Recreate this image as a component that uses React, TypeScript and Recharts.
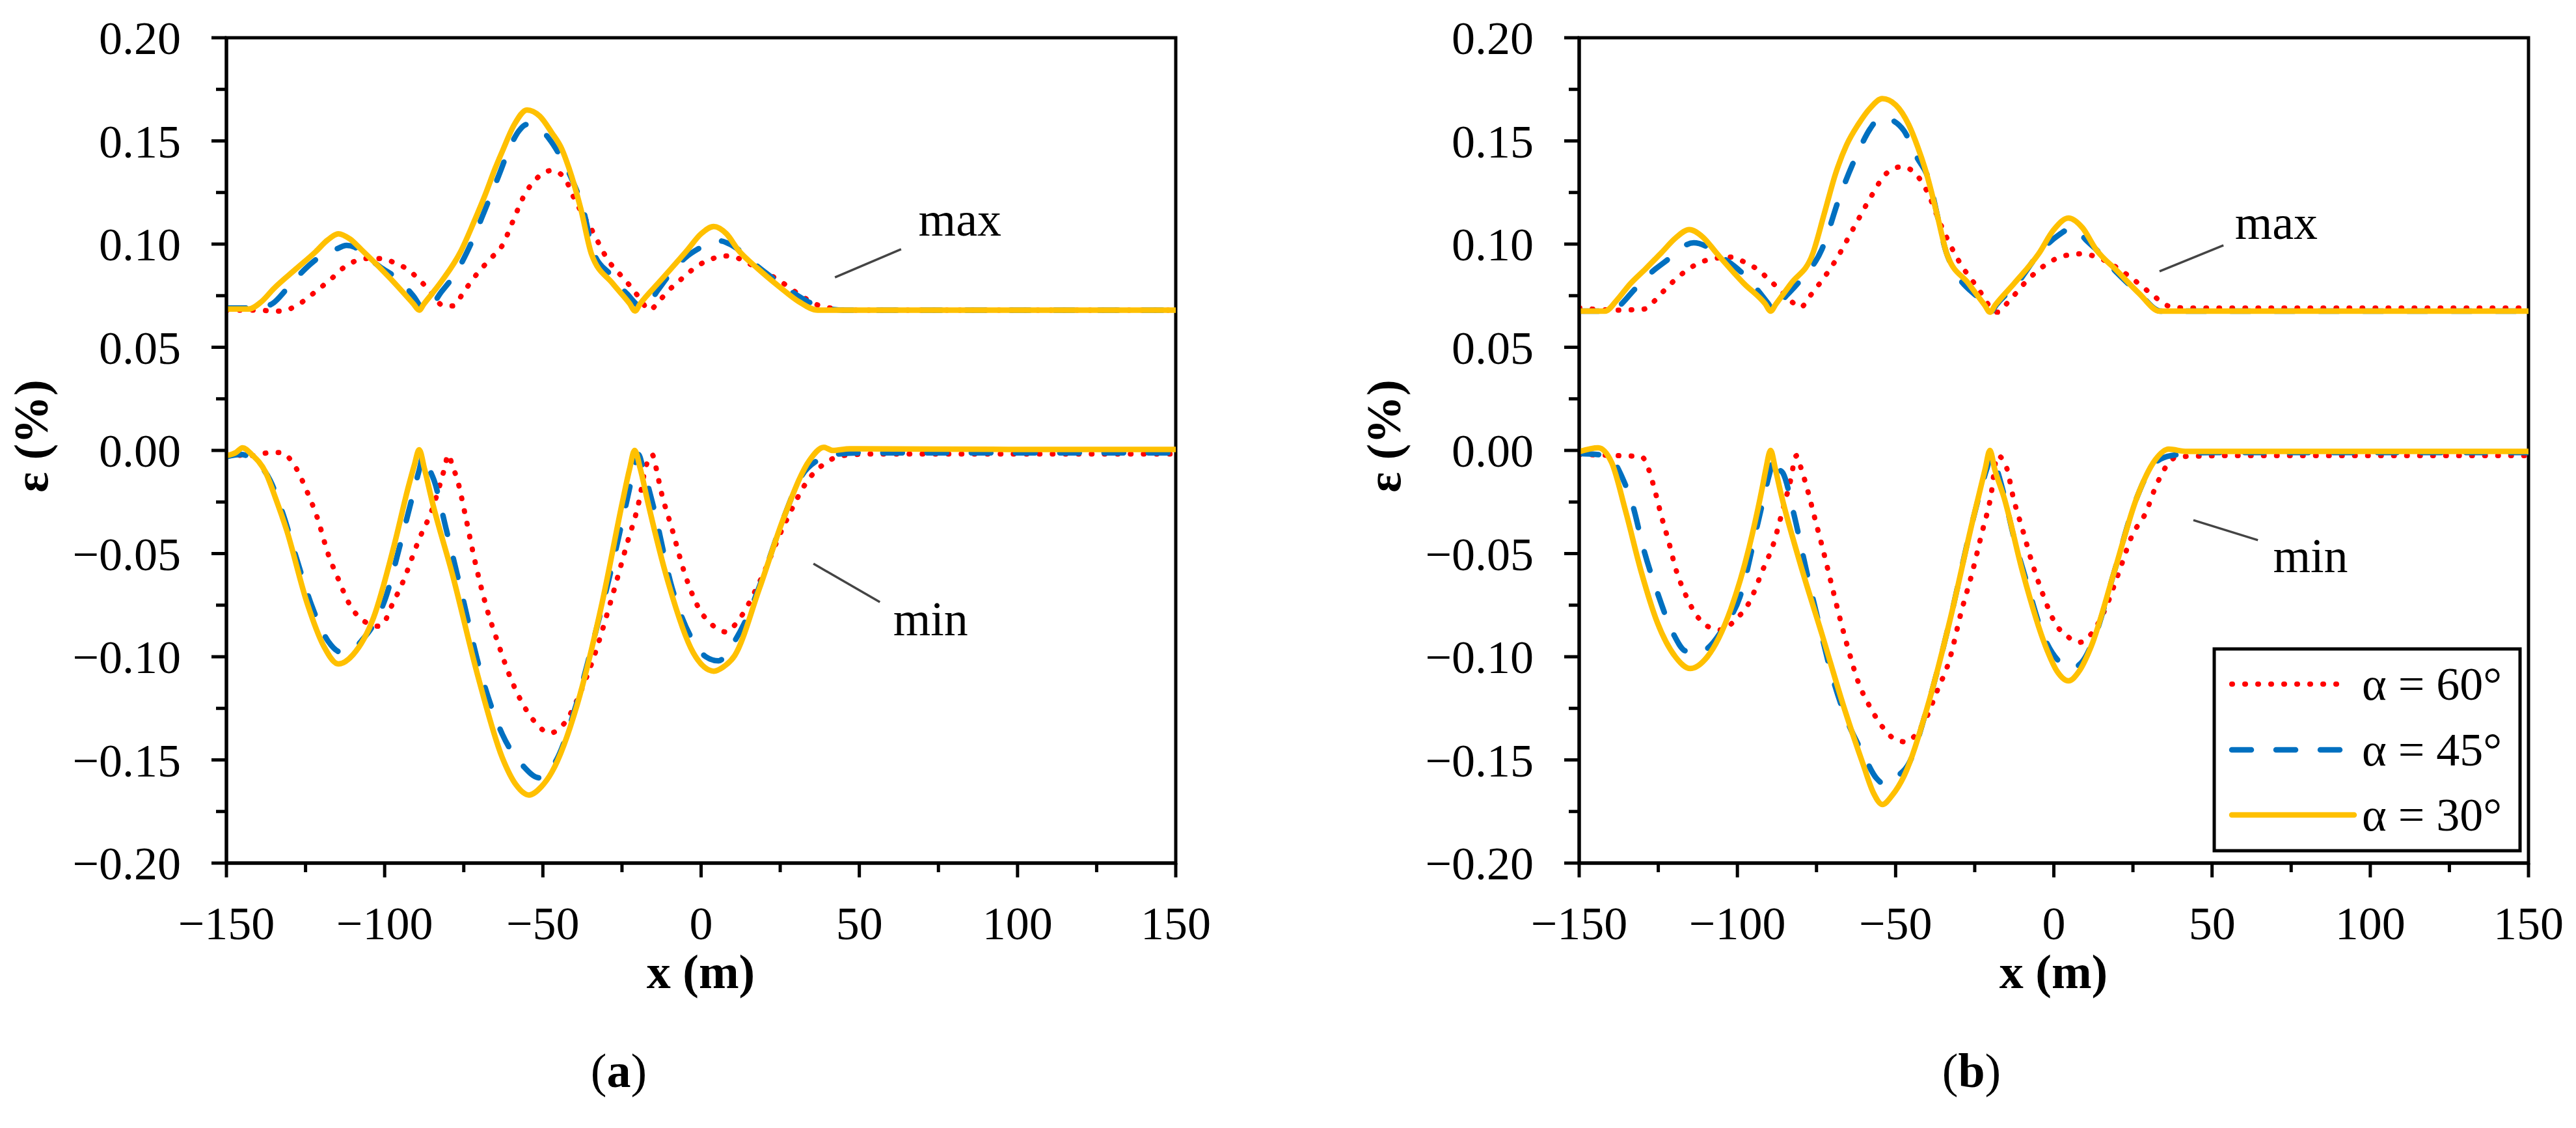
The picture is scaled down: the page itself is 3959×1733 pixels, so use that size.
import React from 'react';
import { LineChart, Line, XAxis, YAxis, ReferenceArea, ReferenceLine, ReferenceDot } from 'recharts';

const FONT = "'Liberation Serif', 'Times New Roman', Times, serif";

const xTicks = [-150, -125, -100, -75, -50, -25, 0, 25, 50, 75, 100, 125, 150];
const xTickLabels = ['\u2212150', '\u2212100', '\u221250', '0', '50', '100', '150'];
const yTicks = [-0.2, -0.175, -0.15, -0.125, -0.1, -0.075, -0.05, -0.025, 0, 0.025, 0.05, 0.075, 0.1, 0.125, 0.15, 0.175, 0.2];
const yTickLabels = ['\u22120.20', '\u22120.15', '\u22120.10', '\u22120.05', '0.00', '0.05', '0.10', '0.15', '0.20'];

const seriesNames = ['\u03b1 = 60\u00b0', '\u03b1 = 45\u00b0', '\u03b1 = 30\u00b0'];

// Panel (a): maximum strain
const aMax60 = [[-150,0.068],[-141.6,0.068],[-132.9,0.0675],[-127,0.071],[-121.8,0.077],[-117,0.083],[-112.6,0.089],[-105.4,0.093],[-100.9,0.093],[-97,0.091],[-93,0.088],[-87,0.0795],[-81.1,0.070],[-78.6,0.070],[-74.5,0.078],[-70.6,0.086],[-66.5,0.093],[-62.8,0.0994],[-59.5,0.111],[-56.2,0.1227],[-51.1,0.133],[-47.2,0.1357],[-43.1,0.132],[-40.6,0.1237],[-38,0.116],[-35.3,0.109],[-29.3,0.092],[-23.5,0.0817],[-19.5,0.074],[-16.3,0.068],[-13.5,0.072],[-10.4,0.0773],[-5.5,0.084],[-1.1,0.0895],[3,0.0925],[6.7,0.0943],[10.6,0.0937],[14.5,0.091],[18.4,0.088],[25,0.082],[31.6,0.075],[36,0.071],[40.8,0.069],[46,0.068],[60,0.068],[100,0.068],[150,0.068]];
const aMax45 = [[-150,0.069],[-143,0.069],[-139,0.0695],[-135.6,0.071],[-130.5,0.079],[-125.1,0.088],[-120.6,0.0937],[-116,0.097],[-112,0.0994],[-109.5,0.0985],[-107.4,0.096],[-101.5,0.089],[-95.5,0.0826],[-91,0.075],[-87.1,0.0675],[-82,0.077],[-77.2,0.0868],[-72.5,0.101],[-68.2,0.117],[-64,0.133],[-60.1,0.148],[-57.5,0.155],[-55,0.158],[-52,0.157],[-48,0.151],[-44.5,0.1426],[-41,0.132],[-37.3,0.117],[-34,0.096],[-28.5,0.085],[-23.5,0.076],[-18.2,0.069],[-13.5,0.078],[-9.1,0.087],[-4.5,0.094],[0,0.0985],[3,0.101],[6.1,0.1015],[9,0.1],[12.5,0.0965],[17.2,0.090],[24,0.082],[31.6,0.074],[36,0.0705],[39.4,0.069],[45,0.068],[100,0.068],[150,0.068]];
const aMax30 = [[-150,0.0685],[-143,0.0685],[-139,0.072],[-135,0.0785],[-128,0.088],[-121.8,0.0963],[-118,0.102],[-114.6,0.105],[-111,0.1025],[-107.4,0.0974],[-98,0.083],[-91,0.0712],[-89.1,0.068],[-87.5,0.0712],[-82,0.082],[-76,0.0963],[-72,0.11],[-68.2,0.124],[-65,0.137],[-62.8,0.145],[-59,0.158],[-55,0.165],[-51,0.162],[-47.2,0.154],[-44,0.146],[-41.8,0.137],[-38,0.117],[-34.6,0.095],[-28,0.081],[-22.6,0.0712],[-20.9,0.0676],[-19.2,0.0712],[-13,0.082],[-4.4,0.097],[0,0.105],[4,0.1085],[8,0.105],[11.8,0.097],[18,0.088],[25,0.079],[31,0.072],[36.9,0.068],[45,0.068],[100,0.068],[150,0.068]];

// Panel (a): minimum strain
const aMin60 = [[-150,-0.002],[-141.6,-0.0025],[-136,-0.001],[-132.9,-0.001],[-128.4,-0.0075],[-124.5,-0.020],[-121.2,-0.033],[-117.9,-0.050],[-114.6,-0.0625],[-111.3,-0.074],[-108,-0.081],[-105,-0.084],[-102.1,-0.0852],[-100,-0.083],[-98.2,-0.0767],[-94.3,-0.064],[-89.1,-0.043],[-85,-0.0287],[-81.1,-0.0088],[-79.9,-0.002],[-78.5,-0.008],[-77.2,-0.0133],[-74.5,-0.0315],[-72,-0.050],[-68.2,-0.074],[-64.1,-0.0937],[-60.1,-0.1107],[-56.2,-0.1233],[-52.3,-0.132],[-47.8,-0.137],[-43.1,-0.132],[-37.9,-0.1164],[-34,-0.1007],[-28.7,-0.074],[-23.5,-0.0457],[-19.6,-0.0246],[-17.6,-0.0088],[-15.5,-0.002],[-14,-0.01],[-13,-0.0174],[-9.1,-0.0385],[-5.1,-0.06],[-1.1,-0.0754],[4,-0.0852],[7.9,-0.088],[11.8,-0.0823],[18.4,-0.064],[26.4,-0.0357],[34.3,-0.0133],[39.4,-0.006],[44.7,-0.0025],[55,-0.0017],[100,-0.0017],[150,-0.0017]];
const aMin45 = [[-150,-0.003],[-145.5,-0.002],[-141,-0.005],[-136.2,-0.0145],[-132.3,-0.030],[-127.8,-0.0526],[-123.1,-0.075],[-117.9,-0.0924],[-113.4,-0.098],[-110,-0.0965],[-107.4,-0.0924],[-103,-0.083],[-99.6,-0.071],[-95.5,-0.048],[-91.6,-0.0246],[-89,-0.009],[-87.7,-0.002],[-86.2,-0.008],[-84.4,-0.0145],[-80.5,-0.0385],[-76,-0.067],[-69.4,-0.109],[-62.8,-0.1376],[-56.2,-0.153],[-51.1,-0.1587],[-45.7,-0.150],[-39.5,-0.1234],[-34,-0.092],[-28.7,-0.0597],[-23.5,-0.0246],[-21.2,-0.009],[-19.8,-0.002],[-18.3,-0.009],[-15.5,-0.0246],[-9.1,-0.067],[-2.5,-0.0924],[1.5,-0.1],[5.5,-0.102],[9.5,-0.095],[14.5,-0.081],[18.4,-0.066],[26.4,-0.0315],[31.5,-0.013],[36.9,-0.0047],[42.1,-0.002],[50,-0.0012],[100,-0.0012],[150,-0.0012]];
const aMin30 = [[-150,-0.0025],[-147,-0.001],[-144.9,0.0013],[-142,-0.002],[-137.7,-0.0104],[-134.5,-0.023],[-131,-0.0385],[-124.5,-0.074],[-119.2,-0.095],[-114.6,-0.1035],[-110,-0.099],[-103.5,-0.081],[-97,-0.046],[-92.4,-0.017],[-90.6,-0.007],[-89.1,0.0003],[-87.4,-0.009],[-85,-0.0246],[-78.6,-0.06],[-70.6,-0.109],[-62.8,-0.149],[-58.5,-0.162],[-54.4,-0.167],[-50.5,-0.163],[-47.2,-0.156],[-39.2,-0.1234],[-31.3,-0.074],[-24.8,-0.0246],[-22.6,-0.009],[-21,0],[-19.2,-0.009],[-16.9,-0.0246],[-10.4,-0.064],[-2.5,-0.098],[1,-0.105],[4,-0.107],[7,-0.105],[10.6,-0.0995],[18.4,-0.067],[26.4,-0.0315],[34.3,-0.0047],[38.8,0.0015],[41.6,0],[47,0.0008],[100,0.0005],[150,0.0005]];

// Panel (b): maximum strain
const bMax60 = [[-150,0.069],[-138.3,0.068],[-129.6,0.0685],[-126.5,0.072],[-123.9,0.0763],[-117.3,0.0858],[-110.1,0.092],[-102.1,0.0937],[-98.5,0.0918],[-94.9,0.089],[-87.7,0.0795],[-81.9,0.071],[-79.9,0.0694],[-77.5,0.074],[-74.7,0.0795],[-69,0.092],[-63.2,0.108],[-57.5,0.1237],[-53.1,0.134],[-48,0.1375],[-43.1,0.133],[-40.2,0.126],[-35.9,0.110],[-30.1,0.092],[-24.4,0.0795],[-17.8,0.067],[-14.3,0.0722],[-8.3,0.0826],[-2.6,0.090],[3.2,0.0943],[8.9,0.0953],[14.7,0.093],[23.3,0.085],[30.5,0.0763],[36.3,0.070],[42.1,0.069],[100,0.069],[150,0.069]];
const bMax45 = [[-150,0.0675],[-142,0.0675],[-138.3,0.069],[-132.5,0.078],[-126.8,0.0868],[-121.6,0.093],[-117.5,0.0985],[-113.8,0.1006],[-110,0.099],[-106.4,0.0953],[-97.8,0.085],[-90.2,0.071],[-88.5,0.0675],[-86.8,0.071],[-80.5,0.0817],[-73.3,0.0975],[-67.5,0.1237],[-61.8,0.1448],[-58,0.156],[-54.6,0.1615],[-51,0.16],[-47.4,0.155],[-43.1,0.1416],[-40.2,0.134],[-33.6,0.0943],[-21.8,0.0705],[-20,0.067],[-18.2,0.0705],[-11.2,0.0817],[-4.8,0.0953],[1.8,0.1047],[6.1,0.108],[10.4,0.1016],[13.3,0.0975],[20,0.086],[27,0.076],[33.8,0.0675],[40,0.0675],[100,0.0675],[150,0.0675]];
const bMax30 = [[-150,0.0675],[-141.8,0.0675],[-138,0.073],[-134,0.0805],[-129,0.088],[-123.9,0.096],[-119.5,0.103],[-115.2,0.107],[-111,0.1035],[-106.4,0.0953],[-98,0.081],[-91.2,0.071],[-89.5,0.0675],[-87.8,0.071],[-83,0.081],[-76.2,0.0953],[-72.5,0.115],[-69,0.134],[-65.5,0.148],[-61.8,0.158],[-58,0.166],[-54.2,0.1705],[-50,0.1675],[-45.9,0.158],[-43,0.147],[-40.2,0.134],[-37,0.115],[-33.6,0.0943],[-27,0.081],[-21.9,0.0705],[-20.2,0.067],[-18.5,0.0705],[-12.5,0.081],[-4.8,0.0953],[0,0.107],[4.6,0.1126],[9,0.108],[13.3,0.0975],[20,0.087],[27,0.076],[33.4,0.0675],[40,0.0675],[100,0.0675],[150,0.0675]];

// Panel (b): minimum strain
const bMin60 = [[-150,-0.002],[-138.3,-0.0025],[-130.3,-0.003],[-128.2,-0.0085],[-125.9,-0.0205],[-123.9,-0.0325],[-121.6,-0.0448],[-119.6,-0.0568],[-116.7,-0.0688],[-112.4,-0.081],[-108.7,-0.0858],[-105,-0.087],[-100.6,-0.082],[-96.3,-0.0738],[-92,-0.058],[-88.5,-0.0448],[-86.3,-0.0325],[-83.4,-0.0158],[-81.3,-0.0025],[-79.9,-0.0085],[-77.6,-0.0205],[-75.6,-0.0325],[-73.3,-0.046],[-70.4,-0.064],[-67.5,-0.082],[-64.7,-0.0978],[-61.8,-0.1123],[-58.1,-0.1243],[-53.8,-0.1347],[-50.2,-0.140],[-46.6,-0.1413],[-43.1,-0.1366],[-40.2,-0.1293],[-37,-0.117],[-33,-0.1016],[-29.3,-0.0785],[-25.8,-0.0593],[-22.9,-0.041],[-20,-0.023],[-17.8,-0.0025],[-14.9,-0.0085],[-12.8,-0.023],[-9.8,-0.0388],[-6.9,-0.0543],[-3.4,-0.070],[0.3,-0.0834],[4.6,-0.0905],[8.1,-0.093],[11.8,-0.089],[16.2,-0.077],[20.5,-0.0593],[24.8,-0.041],[29.1,-0.030],[32,-0.0183],[35.7,-0.0073],[39.2,-0.003],[60,-0.0025],[100,-0.0025],[150,-0.0025]];
const bMin45 = [[-150,-0.0015],[-141.2,-0.0025],[-136,-0.0145],[-133.1,-0.0265],[-129.6,-0.048],[-125.3,-0.0688],[-120.2,-0.089],[-116.7,-0.097],[-113,-0.0985],[-109.5,-0.096],[-104,-0.085],[-99.2,-0.071],[-93.5,-0.035],[-89.8,-0.011],[-88.3,-0.003],[-86.8,-0.009],[-85.6,-0.011],[-81.9,-0.0325],[-78.4,-0.0568],[-74.7,-0.081],[-70.4,-0.1076],[-66.1,-0.128],[-60.3,-0.147],[-56,-0.159],[-53.1,-0.162],[-49.5,-0.158],[-45.9,-0.152],[-40.2,-0.1256],[-33,-0.0834],[-25.8,-0.035],[-21.2,-0.009],[-19.6,-0.002],[-18,-0.009],[-16,-0.02],[-12.8,-0.041],[-8.3,-0.0653],[-4,-0.087],[1.8,-0.1025],[5.3,-0.1057],[8.9,-0.1025],[13,-0.09],[19,-0.0593],[26.2,-0.023],[32,-0.006],[37.1,-0.0025],[50,-0.001],[100,-0.001],[150,-0.001]];
const bMin30 = [[-150,-0.0006],[-144,0.0013],[-139.7,-0.006],[-135.4,-0.029],[-130.3,-0.0593],[-125.3,-0.0834],[-119.6,-0.100],[-114.9,-0.1057],[-109.5,-0.100],[-102.1,-0.077],[-96.3,-0.047],[-92,-0.017],[-91,-0.009],[-89.5,0],[-88,-0.009],[-86.3,-0.0205],[-80.5,-0.053],[-73.3,-0.089],[-66.1,-0.1256],[-60.3,-0.152],[-57,-0.166],[-54.2,-0.1716],[-51,-0.167],[-47.4,-0.158],[-40.2,-0.1256],[-33,-0.0834],[-25.8,-0.035],[-21.7,-0.009],[-20.2,0],[-18.7,-0.009],[-15.7,-0.023],[-9.8,-0.0593],[-2.6,-0.095],[1,-0.107],[4.6,-0.1117],[8,-0.107],[11.8,-0.095],[19,-0.0593],[26.2,-0.023],[32,-0.0047],[36.3,0.0006],[42,-0.0005],[100,-0.0005],[150,-0.0005]];

const COLORS = ['#FF0000', '#0070C0', '#FFC000'];

const toPts = (arr: number[][]) => arr.map(([x, v]) => ({ x, v }));

const lineStyles = [
  { stroke: COLORS[0], strokeWidth: 8, strokeDasharray: '1 19', strokeLinecap: 'round' as const },
  { stroke: COLORS[1], strokeWidth: 8.5, strokeDasharray: '30 38', strokeLinecap: 'round' as const },
  { stroke: COLORS[2], strokeWidth: 8.5, strokeDasharray: undefined, strokeLinecap: 'round' as const },
];

const XTick = (props: any) => {
  const { x, y, payload } = props;
  const v = payload.value;
  const major = Math.round(v) % 50 === 0;
  const len = major ? 22 : 14;
  const label = major ? xTickLabels[Math.round((v + 150) / 50)] : null;
  return (
    <g>
      <line x1={x} x2={x} y1={y} y2={y + len} stroke="#000" strokeWidth={5} />
      {label !== null && (
        <text x={x} y={y + 117} textAnchor="middle" fontSize={72} fontFamily={FONT} fill="#000">{label}</text>
      )}
    </g>
  );
};

const YTick = (props: any) => {
  const { x, y, payload } = props;
  const v = payload.value;
  const k = Math.round(v * 1000);
  const major = Math.abs(k) % 50 === 0;
  const len = major ? 23 : 16;
  const label = major ? yTickLabels[Math.round((v + 0.2) / 0.05)] : null;
  return (
    <g>
      <line x1={x - len} x2={x} y1={y} y2={y} stroke="#000" strokeWidth={5} />
      {label !== null && (
        <text x={x - 70} y={y + 25} textAnchor="end" fontSize={72} fontFamily={FONT} fill="#000">{label}</text>
      )}
    </g>
  );
};

const AnnText = (props: any) => {
  const vb = props.viewBox || {};
  return (
    <text x={vb.x} y={vb.y} fontSize={74} fontFamily={FONT} fill="#000">{props.txt}</text>
  );
};

type Ann = { seg: number[][]; tx: number; ty: number; txt: string };

const annA: Ann[] = [
  { seg: [[42.3, 0.0839], [63.2, 0.0975]], tx: 68.8, ty: 0.104, txt: 'max' },
  { seg: [[35.5, -0.0549], [56.5, -0.0735]], tx: 60.8, ty: -0.0899, txt: 'min' },
];
const annB: Ann[] = [
  { seg: [[33.4, 0.0868], [53.6, 0.0994]], tx: 57.3, ty: 0.1025, txt: 'max' },
  { seg: [[44.1, -0.0338], [64.5, -0.0435]], tx: 69.4, ty: -0.059, txt: 'min' },
];

function Panel(props: { left: number; width: number; right: number; maxSeries: number[][][]; minSeries: number[][][]; anns: Ann[] }) {
  const { left, width, right, maxSeries, minSeries, anns } = props;
  return (
    <div style={{ position: 'absolute', left, top: 0 }}>
      <LineChart width={width} height={1733} margin={{ top: 58, right, bottom: 307, left: 248 }}>
        <XAxis
          type="number"
          dataKey="x"
          domain={[-150, 150]}
          ticks={xTicks}
          interval={0}
          tickSize={0}
          tickMargin={0}
          tickLine={false}
          axisLine={{ stroke: '#000', strokeWidth: 5 }}
          tick={(p: any) => <XTick {...p} />}
          height={100}
          allowDataOverflow
        />
        <YAxis
          type="number"
          domain={[-0.2, 0.2]}
          ticks={yTicks}
          interval={0}
          tickSize={0}
          tickMargin={0}
          tickLine={false}
          axisLine={{ stroke: '#000', strokeWidth: 5 }}
          tick={(p: any) => <YTick {...p} />}
          width={100}
          allowDataOverflow
        />
        <ReferenceArea x1={-150} x2={150} y1={-0.2} y2={0.2} fill="none" fillOpacity={0} stroke="#000" strokeWidth={5} ifOverflow="visible" />
        {anns.map((a, i) => (
          <ReferenceLine
            key={'l' + i}
            segment={[{ x: a.seg[0][0], y: a.seg[0][1] }, { x: a.seg[1][0], y: a.seg[1][1] }]}
            stroke="#444"
            strokeWidth={3.5}
          />
        ))}
        {anns.map((a, i) => (
          <ReferenceDot key={'t' + i} x={a.tx} y={a.ty} r={0.5} fill="none" stroke="none" label={<AnnText txt={a.txt} />} />
        ))}
        {[0, 1, 2].map((i) => (
          <Line
            key={'max' + i}
            data={toPts(maxSeries[i])}
            dataKey="v"
            type="monotone"
            dot={false}
            activeDot={false}
            isAnimationActive={false}
            name={seriesNames[i]}
            {...lineStyles[i]}
          />
        ))}
        {[0, 1, 2].map((i) => (
          <Line
            key={'min' + i}
            data={toPts(minSeries[i])}
            dataKey="v"
            type="monotone"
            dot={false}
            activeDot={false}
            isAnimationActive={false}
            name={seriesNames[i] + ' min'}
            legendType="none"
            {...lineStyles[i]}
          />
        ))}
      </LineChart>
    </div>
  );
}

function Overlay() {
  const legendRows = [1051, 1152, 1252];
  return (
    <svg width={3959} height={1733} style={{ position: 'absolute', left: 0, top: 0, pointerEvents: 'none' }}>
      <text x={1077} y={1518} textAnchor="middle" fontSize={74} fontWeight="bold" fontFamily={FONT} fill="#000">x (m)</text>
      <text x={3156} y={1518} textAnchor="middle" fontSize={74} fontWeight="bold" fontFamily={FONT} fill="#000">x (m)</text>
      <text transform="translate(73,670) rotate(-90)" textAnchor="middle" fontSize={74} fontWeight="bold" fontFamily={FONT} fill="#000">{'\u03b5 (%)'}</text>
      <text transform="translate(2152,670) rotate(-90)" textAnchor="middle" fontSize={74} fontWeight="bold" fontFamily={FONT} fill="#000">{'\u03b5 (%)'}</text>
      <text x={951} y={1670} textAnchor="middle" fontSize={74} fontFamily={FONT} fill="#000">(<tspan fontWeight="bold">a</tspan>)</text>
      <text x={3030} y={1670} textAnchor="middle" fontSize={74} fontFamily={FONT} fill="#000">(<tspan fontWeight="bold">b</tspan>)</text>
      <rect x={3403} y={997} width={470} height={310} fill="#fff" stroke="#000" strokeWidth={5} />
      {legendRows.map((ly, i) => (
        <g key={i}>
          <line x1={3430} x2={i === 0 ? 3609 : 3618} y1={ly} y2={ly} {...lineStyles[i]} />
          <text x={3630} y={ly + 24} fontSize={72} fontFamily={FONT} fill="#000">{seriesNames[i]}</text>
        </g>
      ))}
    </svg>
  );
}

export default function App() {
  return (
    <div style={{ position: 'absolute', left: 0, top: 0, width: 3959, height: 1733, background: '#fff', overflow: 'hidden' }}>
      <Panel left={0} width={1900} right={93} maxSeries={[aMax60, aMax45, aMax30]} minSeries={[aMin60, aMin45, aMin30]} anns={annA} />
      <Panel left={2079} width={1880} right={73} maxSeries={[bMax60, bMax45, bMax30]} minSeries={[bMin60, bMin45, bMin30]} anns={annB} />
      <Overlay />
    </div>
  );
}
